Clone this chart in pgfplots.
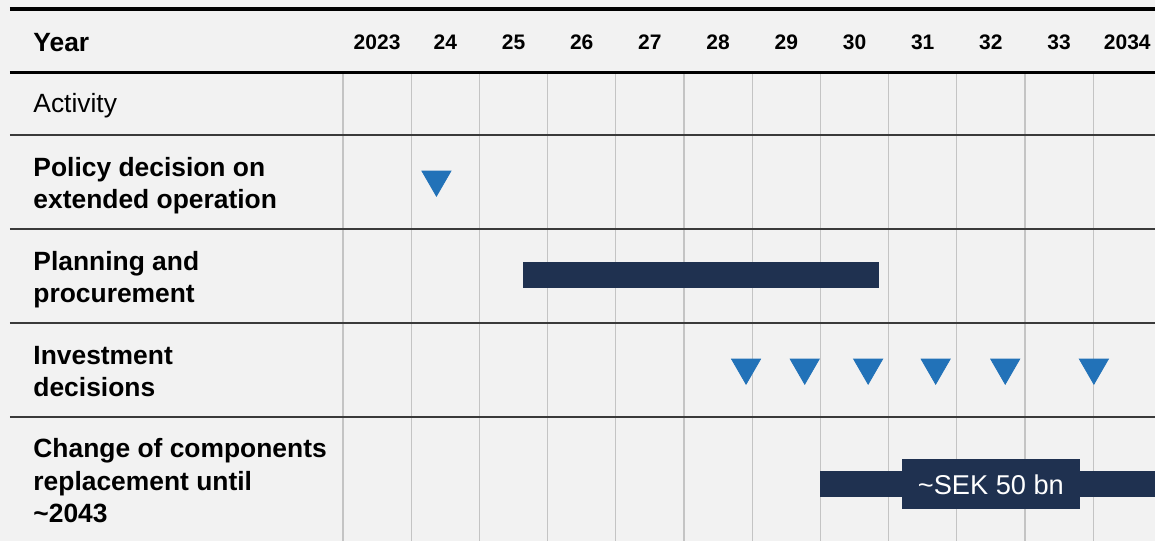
\documentclass[border=0pt]{standalone}
\usepackage{pgfplots}
\pgfplotsset{compat=1.18}
\usepackage{fontspec}
\setmainfont{Liberation Sans}
\definecolor{bgc}{HTML}{F2F2F2}
\definecolor{navy}{HTML}{1F3150}
\definecolor{tri}{HTML}{2272B8}
\definecolor{gridc}{HTML}{C4C4C4}
\definecolor{sepc}{HTML}{3A3A3A}
\begin{document}
\begin{tikzpicture}
\begin{axis}[
  width=577.5pt, height=270.5pt, scale only axis,
  xmin=-5.0293, xmax=11.9062, ymin=0, ymax=541, y dir=reverse,
  axis line style={draw=none}, xtick=\empty, ytick=\empty,
  axis background/.style={fill=bgc},
]
% vertical grid lines
\pgfplotsinvokeforeach{0,...,11}{
  \addplot[gridc, line width=0.6pt, forget plot] coordinates {(#1,72) (#1,541)};
}
% horizontal rules
\addplot[black, line width=2pt] coordinates {(-4.883,9) (11.91,9)};
\addplot[black, line width=1.5pt] coordinates {(-4.883,72) (11.91,72)};
\addplot[sepc, line width=0.75pt] coordinates {(-4.883,135) (11.91,135)};
\addplot[sepc, line width=0.75pt] coordinates {(-4.883,229) (11.91,229)};
\addplot[sepc, line width=0.75pt] coordinates {(-4.883,323) (11.91,323)};
\addplot[sepc, line width=0.75pt] coordinates {(-4.883,417) (11.91,417)};
% bars
\addplot[fill=navy, draw=none] coordinates {(2.64,262) (7.86,262) (7.86,288) (2.64,288)} --cycle;
\addplot[fill=navy, draw=none] coordinates {(7.0,471) (12.0,471) (12.0,497) (7.0,497)} --cycle;
\addplot[fill=navy, draw=none] coordinates {(8.196,459) (10.806,459) (10.806,509) (8.196,509)} --cycle;
% milestones
\addplot[tri, only marks, mark=triangle*, mark size=8.35pt, mark options={rotate=180, fill=tri, draw=none}]
  coordinates {(1.37,179.4)};
\addplot[tri, only marks, mark=triangle*, mark size=8.35pt, mark options={rotate=180, fill=tri, draw=none}]
  coordinates {(5.91,367.4) (6.77,367.4) (7.70,367.4) (8.69,367.4) (9.71,367.4) (11.01,367.4)};
% header
\node[inner sep=0pt, anchor=base west, font=\bfseries\fontsize{13.2}{16}\selectfont] at (axis cs:-4.545,51.7) {Year};
\pgfplotsforeachungrouped \k/\lab in {0/2023,1/24,2/25,3/26,4/27,5/28,6/29,7/30,8/31,9/32,10/33,11/2034}{
  \edef\temp{\noexpand\node[inner sep=0pt, anchor=base, font=\noexpand\bfseries\noexpand\fontsize{10.5}{12}\noexpand\selectfont] at (axis cs:\k+0.5,49) {\lab};}
  \temp
}
% row labels
\node[inner sep=0pt, anchor=base west, font=\fontsize{13.2}{16}\selectfont] at (axis cs:-4.545,112.7) {Activity};
\begin{scope}[every node/.append style={inner sep=0pt, anchor=base west, font=\bfseries\fontsize{13.2}{16}\selectfont}]
\node at (axis cs:-4.545,176.7) {Policy decision on};
\node at (axis cs:-4.545,208.3) {extended operation};
\node at (axis cs:-4.545,270.7) {Planning and};
\node at (axis cs:-4.545,302.3) {procurement};
\node at (axis cs:-4.545,364.7) {Investment};
\node at (axis cs:-4.545,396.3) {decisions};
\node at (axis cs:-4.545,457.7) {Change of components};
\node at (axis cs:-4.545,490.3) {replacement until};
\node at (axis cs:-4.545,522.5) {\textasciitilde 2043};
\end{scope}
\node[inner sep=0pt, anchor=base, text=white, font=\fontsize{13.6}{16}\selectfont] at (axis cs:9.5,494) {\textasciitilde SEK 50 bn};
\end{axis}
\end{tikzpicture}
\end{document}
